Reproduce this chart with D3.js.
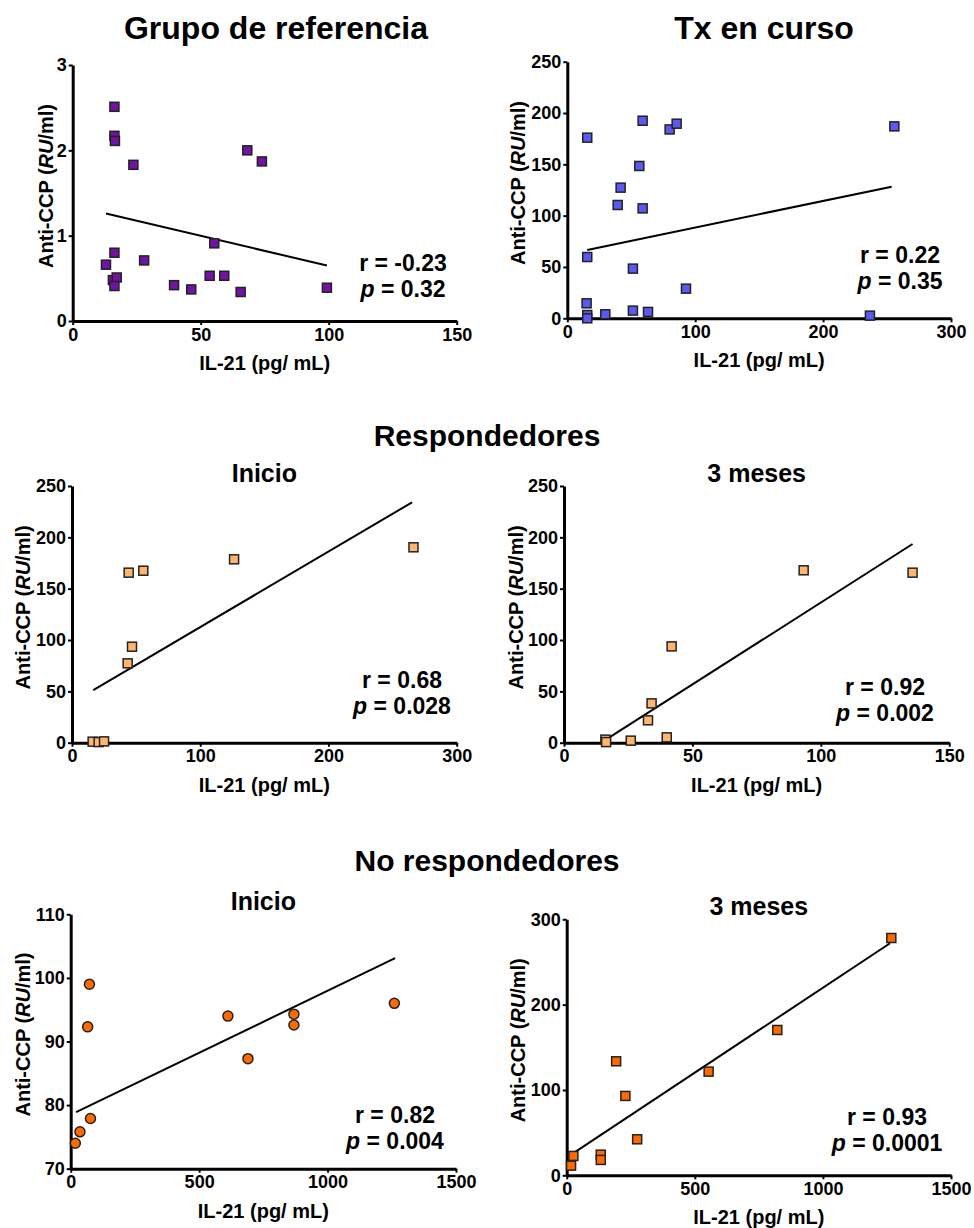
<!DOCTYPE html>
<html>
<head>
<meta charset="utf-8">
<script src="https://cdn.jsdelivr.net/npm/d3@7"></script>
<style>
  body { margin: 0; background: #fff; }
  svg { display: block; font-family: "Liberation Sans", Arial, sans-serif; font-weight: bold; }
  .axis path, .axis line { stroke: #000; }
  .axis path { stroke-width: 3; }
  .axis line { stroke-width: 2; }
  .axis text { font-size: 18px; font-weight: bold; fill: #000; font-family: "Liberation Sans", Arial, sans-serif; }
</style>
</head>
<body>
<svg id="chart" width="974" height="1228"></svg>
<script>
// Grupo de referencia
var refX = [16.3, 16.3, 16.5, 23.7, 68.2, 73.9, 55.3, 16.3, 13.0, 27.9, 15.7, 17.2, 16.3, 39.6, 46.3, 53.5, 59.2, 65.6, 99.3];
var refY = [2.51, 2.17, 2.11, 1.83, 2.00, 1.87, 0.91, 0.80, 0.66, 0.71, 0.48, 0.51, 0.41, 0.42, 0.37, 0.53, 0.53, 0.34, 0.39];
var refFitX = [13, 99.3], refFitY = [1.26, 0.65];

// Tx en curso
var txX = [15.6, 15.6, 15.1, 15.6, 15.6, 29.7, 41.7, 39.4, 56.3, 58.9, 58.9, 51.3, 51.3, 63.1, 80, 85.5, 92.8, 236.6, 255.7];
var txY = [176, 59.7, 14.6, 3.2, 0, 3.9, 127.3, 110.4, 148.4, 192.5, 107.1, 48.4, 7.5, 6.2, 184, 189.6, 28.9, 2.6, 187];
var txFitX = [15.6, 253.6], txFitY = [66.6, 128.2];

// Respondedores - Inicio
var respIniX = [16.1, 20.8, 25, 43.4, 46.8, 44.2, 55.6, 126.4, 266.3];
var respIniY = [1, 0.6, 1.3, 77.3, 93.5, 165.6, 167.5, 178.6, 190.3];
var respIniFitX = [16.6, 265.2], respIniFitY = [51.3, 234.1];

// Respondedores - 3 meses
var resp3mX = [16.1, 16.4, 26, 32.7, 34.1, 40, 41.9, 93.3, 135.7];
var resp3mY = [3, 0.6, 2, 21.8, 38.3, 5.2, 93.8, 167.9, 165.6];
var resp3mFitX = [16.9, 135.7], resp3mFitY = [3.9, 193.5];

// No respondedores - Inicio
var noRespIniX = [18, 36, 77, 66, 73, 612, 690, 869, 869, 1260];
var noRespIniY = [74.0, 75.8, 77.9, 92.3, 99.0, 94.0, 87.3, 94.3, 92.6, 96.0];
var noRespIniFitX = [21, 1263], noRespIniFitY = [78.9, 103.1];

// No respondedores - 3 meses
var noResp3mX = [17, 26, 133, 133, 193, 229, 275, 554, 822, 1267];
var noResp3mY = [11.3, 22.7, 24.2, 18, 133.6, 93, 42.2, 121.5, 170.3, 278.1];
var noResp3mFitX = [13, 1262], noResp3mFitY = [23.4, 271.9];

var xLabel = 'IL-21 (pg/ mL)';

var svg = d3.select('#chart');

// panel layout
var panels = [
  { x: refX, y: refY, fx: refFitX, fy: refFitY, r: 'r = -0.23', p: '= 0.32',
    xr: [72.7, 456.7], yr: [321, 65], xd: [0, 150], yd: [0, 3], xt: [0, 50, 100, 150], yt: [0, 1, 2, 3],
    fill: '#7412a6', shape: 'square', stat: [403, 263], title: 'Grupo de referencia', titleX: 276, ylOff: 20 },
  { x: txX, y: txY, fx: txFitX, fy: txFitY, r: 'r = 0.22', p: '= 0.35',
    xr: [567.3, 951], yr: [318.3, 61.7], xd: [0, 300], yd: [0, 250], xt: [0, 100, 200, 300], yt: [0, 50, 100, 150, 200, 250],
    fill: '#5a5af2', shape: 'square', stat: [900, 255], title: 'Tx en curso', titleX: 764, ylOff: 42 },
  { x: respIniX, y: respIniY, fx: respIniFitX, fy: respIniFitY, r: 'r = 0.68', p: '= 0.028',
    xr: [72, 456.7], yr: [742.7, 486], xd: [0, 300], yd: [0, 250], xt: [0, 100, 200, 300], yt: [0, 50, 100, 150, 200, 250],
    fill: '#ffb56e', shape: 'square', stat: [402, 680], sub: 'Inicio', ylOff: 42 },
  { x: resp3mX, y: resp3mY, fx: resp3mFitX, fy: resp3mFitY, r: 'r = 0.92', p: '= 0.002',
    xr: [564, 949.3], yr: [742.7, 486], xd: [0, 150], yd: [0, 250], xt: [0, 50, 100, 150], yt: [0, 50, 100, 150, 200, 250],
    fill: '#ffb56e', shape: 'square', stat: [885, 687], sub: '3 meses', ylOff: 41 },
  { x: noRespIniX, y: noRespIniY, fx: noRespIniFitX, fy: noRespIniFitY, r: 'r = 0.82', p: '= 0.004',
    xr: [70.7, 456], yr: [1168.7, 914.3], xd: [0, 1500], yd: [70, 110], xt: [0, 500, 1000, 1500], yt: [70, 80, 90, 100, 110],
    fill: '#ff6a00', shape: 'circle', stat: [395, 1115], sub: 'Inicio', ylOff: 41 },
  { x: noResp3mX, y: noResp3mY, fx: noResp3mFitX, fy: noResp3mFitY, r: 'r = 0.93', p: '= 0.0001',
    xr: [566.7, 951], yr: [1175.3, 919.3], xd: [0, 1500], yd: [0, 300], xt: [0, 500, 1000, 1500], yt: [0, 100, 200, 300],
    fill: '#ff6a00', shape: 'square', stat: [887, 1117], sub: '3 meses', ylOff: 42 }
];

panels.forEach(drawPanel);

// section titles
svg.append('text').attr('x', 487).attr('y', 446).attr('text-anchor', 'middle')
  .style('font-size', '30px').text('Respondedores');
svg.append('text').attr('x', 487).attr('y', 871).attr('text-anchor', 'middle')
  .style('font-size', '30px').text('No respondedores');

function drawPanel(c) {
  var x = d3.scaleLinear().domain(c.xd).range(c.xr);
  var y = d3.scaleLinear().domain(c.yd).range(c.yr);
  var g = svg.append('g');

  // fit line
  g.append('line')
    .attr('x1', x(c.fx[0])).attr('y1', y(c.fy[0]))
    .attr('x2', x(c.fx[1])).attr('y2', y(c.fy[1]))
    .style('stroke', '#000').style('stroke-width', 2);

  // axes
  g.append('g').attr('class', 'axis')
    .attr('transform', 'translate(0,' + c.yr[0] + ')')
    .call(d3.axisBottom(x).tickValues(c.xt).tickFormat(d3.format('d'))
      .tickSize(4).tickSizeOuter(0).tickPadding(3));
  g.append('g').attr('class', 'axis')
    .attr('transform', 'translate(' + c.xr[0] + ',0)')
    .call(d3.axisLeft(y).tickValues(c.yt).tickFormat(d3.format('d'))
      .tickSize(4).tickSizeOuter(0).tickPadding(2));

  // points
  var pts = d3.range(c.x.length).map(function(i) { return [c.x[i], c.y[i]]; });
  if (c.shape === 'circle') {
    g.selectAll('circle.pt').data(pts).enter().append('circle')
      .attr('cx', function(d) { return x(d[0]); })
      .attr('cy', function(d) { return y(d[1]); })
      .attr('r', 5)
      .style('fill', c.fill).style('stroke', '#222').style('stroke-width', 1.5);
  } else {
    g.selectAll('rect.pt').data(pts).enter().append('rect')
      .attr('x', function(d) { return x(d[0]) - 4.5; })
      .attr('y', function(d) { return y(d[1]) - 4.5; })
      .attr('width', 9).attr('height', 9)
      .style('fill', c.fill).style('stroke', '#222').style('stroke-width', 1.5);
  }

  // axis labels
  var xMid = (c.xr[0] + c.xr[1]) / 2;
  var yMid = (c.yr[0] + c.yr[1]) / 2 - 7;
  g.append('text').attr('x', xMid).attr('y', c.yr[0] + 49).attr('text-anchor', 'middle')
    .style('font-size', '20px').text(xLabel);
  var yl = g.append('text')
    .attr('transform', 'translate(' + (c.xr[0] - c.ylOff) + ',' + yMid + ') rotate(-90)')
    .attr('text-anchor', 'middle').style('font-size', '20px');
  yl.append('tspan').text('Anti-CCP (');
  yl.append('tspan').style('font-style', 'italic').text('RU');
  yl.append('tspan').text('/ml)');

  // stats
  g.append('text').attr('x', c.stat[0]).attr('y', c.stat[1] + 8).attr('text-anchor', 'middle')
    .style('font-size', '23px').text(c.r);
  var pt = g.append('text').attr('x', c.stat[0]).attr('y', c.stat[1] + 34).attr('text-anchor', 'middle')
    .style('font-size', '23px');
  pt.append('tspan').style('font-style', 'italic').text('p');
  pt.append('tspan').text(' ' + c.p);

  // titles
  if (c.title) {
    g.append('text').attr('x', c.titleX).attr('y', 39).attr('text-anchor', 'middle')
      .style('font-size', '32px').text(c.title);
  }
  if (c.sub) {
    g.append('text').attr('x', xMid).attr('y', c.yr[1] - 4).attr('text-anchor', 'middle')
      .style('font-size', '25px').text(c.sub);
  }
}
</script>
</body>
</html>
